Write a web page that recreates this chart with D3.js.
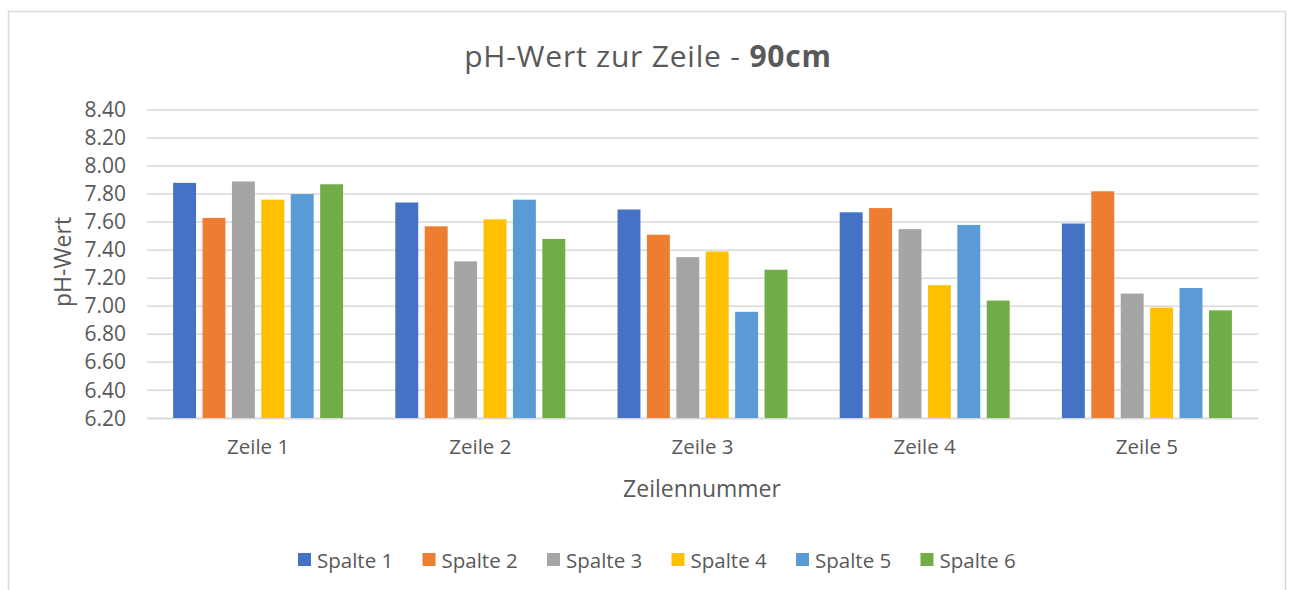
<!DOCTYPE html>
<html><head><meta charset="utf-8">
<script src="https://cdn.jsdelivr.net/npm/d3@7"></script>
<style>body{margin:0;background:#fff;} text{font-family:"Open Sans",sans-serif;}</style>
</head><body>
<svg id="c" width="1295" height="590"></svg>
<script>
const categories = ["Zeile 1","Zeile 2","Zeile 3","Zeile 4","Zeile 5"];
const seriesNames = ["Spalte 1","Spalte 2","Spalte 3","Spalte 4","Spalte 5","Spalte 6"];
const spalte1 = [7.88,7.74,7.69,7.67,7.59];
const spalte2 = [7.63,7.57,7.51,7.70,7.82];
const spalte3 = [7.89,7.32,7.35,7.55,7.09];
const spalte4 = [7.76,7.62,7.39,7.15,6.99];
const spalte5 = [7.80,7.76,6.96,7.58,7.13];
const spalte6 = [7.87,7.48,7.26,7.04,6.97];
const yTicks = [6.2,6.4,6.6,6.8,7.0,7.2,7.4,7.6,7.8,8.0,8.2,8.4];
const colors = ["#4472C4","#ED7D31","#A5A5A5","#FFC000","#5B9BD5","#70AD47"];
const series = [spalte1,spalte2,spalte3,spalte4,spalte5,spalte6];

const svg = d3.select("#c");
// chart border
svg.append("rect").attr("x",8.5).attr("y",11.5).attr("width",1277).attr("height",600)
  .attr("fill","#fff").attr("stroke","#d9d9d9").attr("stroke-width",1.5);

const L=147,R=1258,T=110,B=418.3;
const y = d3.scaleLinear().domain([6.2,8.4]).range([B,T]);
const x0 = d3.scaleBand().domain(categories).range([L,R]).paddingInner(0.235).paddingOuter(0.1175);
const x1 = d3.scaleBand().domain(seriesNames).range([0,x0.bandwidth()]).paddingInner(0.22).paddingOuter(0);

// gridlines
svg.append("g").selectAll("line").data(yTicks).join("line")
  .attr("x1",L).attr("x2",R).attr("y1",d=>y(d)).attr("y2",d=>y(d))
  .attr("stroke","#d9d9d9").attr("stroke-width",1.5);

// y labels
const yAxis = d3.axisLeft(y).tickValues(yTicks).tickFormat(d3.format(".2f")).tickSize(0).tickPadding(21);
const ga = svg.append("g").attr("transform",`translate(${L},0)`).call(yAxis);
ga.select(".domain").remove();
ga.selectAll("text").attr("fill","#595959").style("font-size","21px").style("font-family","'Open Sans',sans-serif");

// bars
const g = svg.append("g");
categories.forEach((c,i)=>{
  series.forEach((s,j)=>{
    g.append("rect").attr("x",x0(c)+x1(seriesNames[j])).attr("width",x1.bandwidth())
      .attr("y",y(s[i])).attr("height",y(6.2)-y(s[i])).attr("fill",colors[j]);
  });
});

// x axis
const xAxis = d3.axisBottom(x0).tickSize(0).tickPadding(21);
const gx = svg.append("g").attr("transform",`translate(0,${B})`).call(xAxis);
gx.select(".domain").attr("stroke","#d9d9d9").attr("stroke-width",1.5);
gx.selectAll("text").attr("fill","#595959").style("font-size","20.5px").style("font-family","'Open Sans',sans-serif");

// title
const title = svg.append("text").attr("x",648).attr("y",67).attr("text-anchor","middle")
  .attr("fill","#595959").style("font-size","30px").style("letter-spacing","0.8px");
title.append("tspan").text("pH-Wert zur Zeile - ");
title.append("tspan").attr("font-weight","bold").text("90cm");

// axis titles
svg.append("text").attr("x",702).attr("y",497).attr("text-anchor","middle").attr("fill","#595959")
  .style("font-size","23px").text("Zeilennummer");
svg.append("text").attr("transform","translate(71,262) rotate(-90)").attr("text-anchor","middle").attr("fill","#595959")
  .style("font-size","23px").text("pH-Wert");

// legend
const lg = svg.append("g");
const step = 124.5, lx0 = 298;
seriesNames.forEach((n,j)=>{
  const gx2 = lx0 + j*step;
  lg.append("rect").attr("x",gx2).attr("y",553).attr("width",13).attr("height",13).attr("fill",colors[j]);
  lg.append("text").attr("x",gx2+19).attr("y",568).attr("fill","#595959").style("font-size","20.5px").text(n);
});
</script>
</body></html>
